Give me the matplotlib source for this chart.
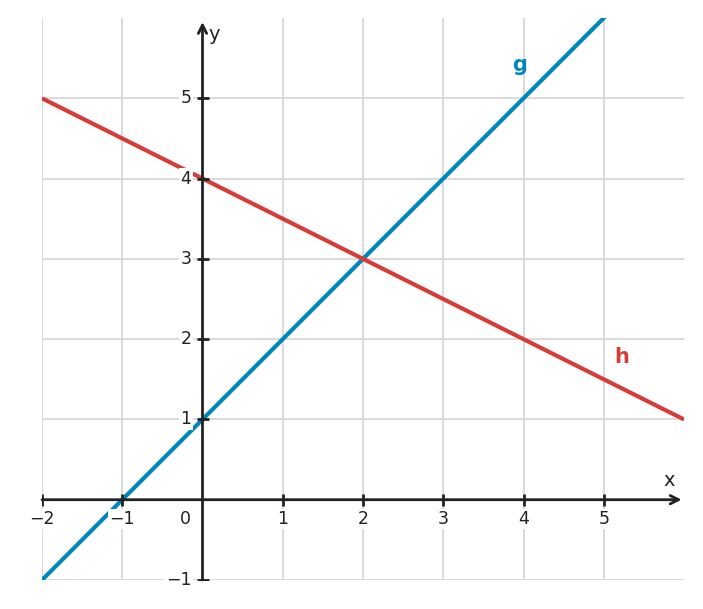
import matplotlib
matplotlib.use("Agg")
import matplotlib.pyplot as plt
import numpy as np

# Data
x_ticks = [-2, -1, 1, 2, 3, 4, 5]
y_ticks = [-1, 1, 2, 3, 4, 5]
x_range = [-2, 6]
g_slope, g_intercept = 1.0, 1.0
h_slope, h_intercept = -0.5, 4.0
labels = {"g": (3.95, 5.42), "h": (5.22, 1.78)}

blue = "#0087b9"
red = "#d63d38"
axis_c = "#222222"
grid_c = "#d8d8d8"

fig = plt.figure(figsize=(7.03, 6.09), dpi=100)
ax = fig.add_axes([42/703, 29/609, 642/703, 562/609])
ax.set_xlim(-2, 6)
ax.set_ylim(-1, 6)
ax.set_axis_off()

# grid
for xv in x_ticks:
    ax.plot([xv, xv], [-1, 6], color=grid_c, lw=1.3, zorder=0)
for yv in y_ticks:
    ax.plot([-2, 6], [yv, yv], color=grid_c, lw=1.3, zorder=0)

# lines
xs = np.array(x_range, dtype=float)
ax.plot(xs, g_slope * xs + g_intercept, color=blue, lw=3.0, zorder=3, solid_capstyle="butt")
ax.plot(xs, h_slope * xs + h_intercept, color=red, lw=3.0, zorder=3, solid_capstyle="butt")

# axes with arrows
ax.annotate("", xy=(5.97, 0), xytext=(-2, 0),
            arrowprops=dict(arrowstyle="->,head_length=0.6,head_width=0.3", color=axis_c, lw=2, shrinkA=0, shrinkB=0), zorder=4)
ax.annotate("", xy=(0, 5.95), xytext=(0, -1),
            arrowprops=dict(arrowstyle="->,head_length=0.6,head_width=0.3", color=axis_c, lw=2, shrinkA=0, shrinkB=0), zorder=4)

# tick marks
ax.plot(x_ticks, [0]*len(x_ticks), linestyle="none", marker="|", markersize=8, mew=2, color=axis_c, zorder=4)
ax.plot([0]*len(y_ticks), y_ticks, linestyle="none", marker="_", markersize=8, mew=2, color=axis_c, zorder=4)

bbox = dict(facecolor="white", edgecolor="none", pad=1.0)
for xv in x_ticks:
    ax.text(xv, -0.24, f"{xv}".replace("-", "\u2212"), ha="center", va="center", fontsize=12.5,
            color=axis_c, bbox=bbox, zorder=5)
for yv in y_ticks:
    ax.text(-0.14, yv, f"{yv}".replace("-", "\u2212"), ha="right", va="center", fontsize=12.5,
            color=axis_c, bbox=bbox, zorder=5)
ax.text(-0.21, -0.24, "0", ha="center", va="center", fontsize=12.5, color=axis_c, zorder=5)

ax.text(5.82, 0.24, "x", ha="center", va="center", fontsize=14, color=axis_c, zorder=5)
ax.text(0.08, 5.8, "y", ha="left", va="center", fontsize=14, color=axis_c, zorder=5)

ax.text(*labels["g"], "g", ha="center", va="center", fontsize=15, fontweight="bold", color=blue, zorder=5)
ax.text(*labels["h"], "h", ha="center", va="center", fontsize=15, fontweight="bold", color=red, zorder=5)

fig.savefig("out.png", dpi=100, facecolor="white")
